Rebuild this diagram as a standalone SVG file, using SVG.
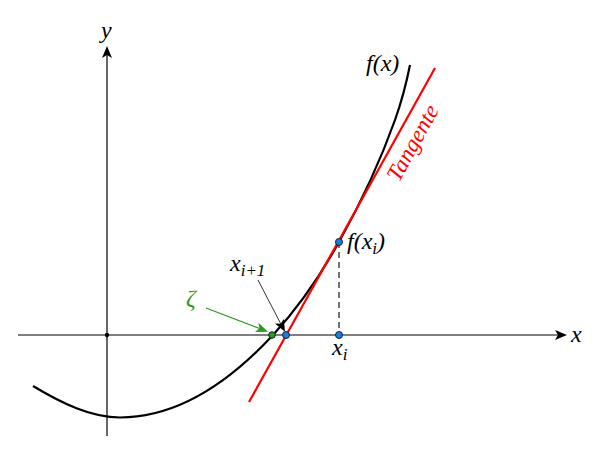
<svg xmlns="http://www.w3.org/2000/svg" width="600" height="450" viewBox="0 0 600 450">
<style>
.lbl{font-family:"Liberation Serif","Times New Roman",serif;font-style:italic;font-size:24px;fill:#000}
.sub{font-size:17px}
.tan{font-size:23px;fill:#f00}
.axis{stroke:#000;stroke-width:1.2;fill:none}
.pt{fill:#1e7be0;stroke:#123;stroke-width:1}
</style>
<defs>
<marker id="ah" viewBox="0 0 12 10" refX="10" refY="5" markerWidth="12" markerHeight="10" markerUnits="userSpaceOnUse" orient="auto">
<path d="M0,0 L12,5 L0,10 L3,5 Z" fill="#000"/>
</marker>
<marker id="ahs" viewBox="0 0 12 10" refX="10" refY="5" markerWidth="12" markerHeight="10" markerUnits="userSpaceOnUse" orient="auto">
<path d="M0,0 L12,5 L0,10 L3,5 Z" fill="#000"/>
</marker>
<marker id="ahg" viewBox="0 0 12 10" refX="10" refY="5" markerWidth="12" markerHeight="10" markerUnits="userSpaceOnUse" orient="auto">
<path d="M0,0 L12,5 L0,10 L3,5 Z" fill="#2a9a1a"/>
</marker>
</defs>
<g id="axes">
<line class="axis" x1="18" y1="335" x2="565" y2="335" marker-end="url(#ah)"/>
<line class="axis" x1="107" y1="436" x2="107" y2="48" marker-end="url(#ah)"/>
<circle cx="107" cy="335" r="2.2" fill="#000"/>
<text class="lbl" x="571" y="342">x</text>
<text class="lbl" x="101" y="38">y</text>
</g>
<g id="curve">
<path d="M33,386 C62,403.4 91,417.5 120,417.5 C171,417.5 222,390.1 273,335 C295,311.2 317,281.6 339,242 C357.7,208.4 376.3,172.4 395,120 C400,106 405,90 410,65" fill="none" stroke="#000" stroke-width="2.2"/>
<text class="lbl" x="366" y="71">f(x)</text>
</g>
<g id="tangent">
<line x1="249" y1="402" x2="435" y2="68" stroke="#f00" stroke-width="2.2"/>
<text class="lbl tan" transform="translate(399,183) rotate(-61)">Tangente</text>
</g>
<g id="connectors">
<line x1="339" y1="242" x2="339" y2="335" stroke="#000" stroke-width="1.1" stroke-dasharray="6,4"/>
<line x1="258" y1="280" x2="284" y2="330" stroke="#333" stroke-width="1" marker-end="url(#ahs)"/>
<line x1="206" y1="308" x2="266" y2="331" stroke="#2a9a1a" stroke-width="1.2" marker-end="url(#ahg)"/>
</g>
<g id="zeta">
<circle cx="272" cy="335" r="3.3" fill="#2a9a1a" stroke="#123" stroke-width="1"/>
<text class="lbl" x="186" y="306" style="fill:#2a9a1a">ζ</text>
</g>
<g id="xi1">
<circle class="pt" cx="286" cy="335" r="3.5"/>
<text class="lbl" x="230" y="271">x<tspan class="sub" dy="5">i+1</tspan></text>
</g>
<g id="xi">
<circle class="pt" cx="339" cy="335" r="3.5"/>
<text class="lbl" x="332" y="355">x<tspan class="sub" dy="5">i</tspan></text>
</g>
<g id="fxi">
<circle class="pt" cx="339" cy="242" r="3.5"/>
<text class="lbl" x="347" y="249">f(x<tspan class="sub" dy="5">i</tspan><tspan dy="-5">)</tspan></text>
</g>
</svg>
